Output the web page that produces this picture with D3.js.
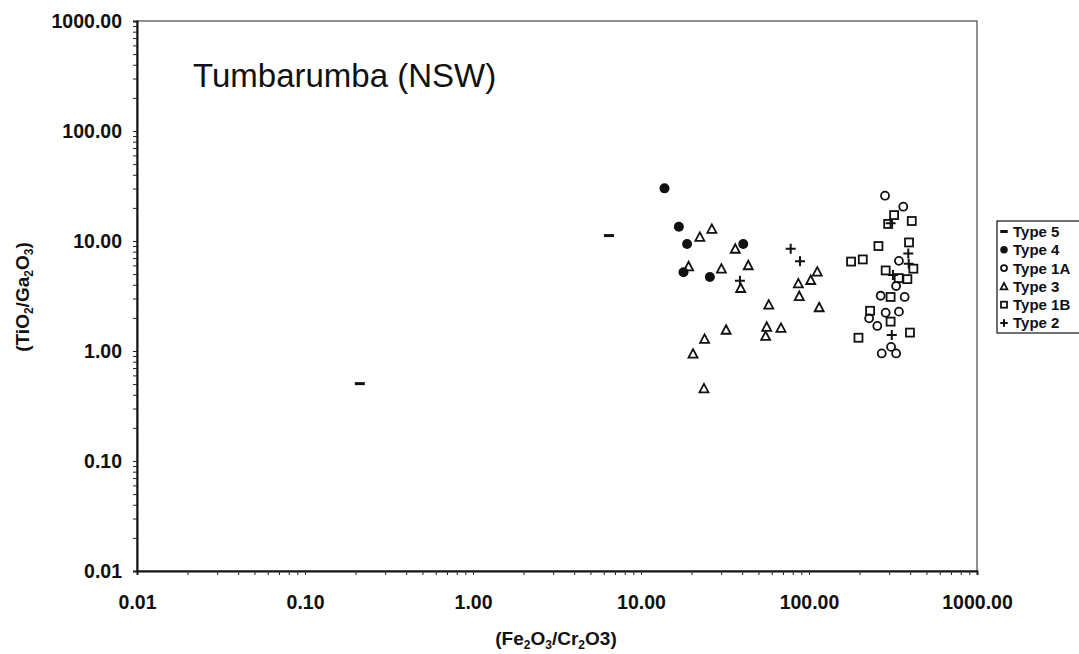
<!DOCTYPE html>
<html><head><meta charset="utf-8">
<script src="https://cdn.jsdelivr.net/npm/d3@7"></script>
<style>
body{margin:0;background:#fff;}
svg{display:block;font-family:"Liberation Sans",Arial,sans-serif;}
</style></head>
<body><svg id="c" width="1079" height="654"></svg>
<script>
// ---- data ----
const type5 = [[6.45, 11.2], [0.212, 0.505]];
const type4 = [[13.8, 30.1], [16.8, 13.5], [18.8, 9.4], [17.9, 5.19], [25.7, 4.71], [40.6, 9.4]];
const type1A = [[283.5, 25.8], [364, 20.5], [343, 6.6], [330, 3.9], [267, 3.18], [371, 3.1], [228, 1.98],
  [286, 2.23], [343, 2.28], [255, 1.69], [271, 0.95], [308, 1.09], [330, 0.95]];
const type3 = [[26.4, 12.9], [22.4, 10.9], [36.4, 8.5], [19.2, 5.89], [30.1, 5.6], [43.5, 6.02], [39.2, 3.74],
  [57.6, 2.64], [56.0, 1.66], [55.2, 1.37], [68.1, 1.62], [32.1, 1.56], [23.9, 1.29], [20.4, 0.945], [23.7, 0.458],
  [112, 5.26], [102.4, 4.42], [86.4, 4.12], [87.5, 3.16], [115, 2.5]];
const type1B = [[321, 17.2], [296, 14.3], [409, 15.2], [259, 9.0], [394, 9.7], [178, 6.5], [209, 6.8], [286, 5.4],
  [418, 5.6], [342, 4.6], [385, 4.5], [306, 3.1], [231, 2.32], [306, 1.85], [197, 1.32], [399, 1.47]];
const type2 = [[306, 14.5], [390, 7.7], [392, 6.2], [316, 4.9], [311, 1.40], [77.8, 8.51], [88.4, 6.54], [38.8, 4.36]];
const legendLabels = ["Type 5", "Type 4", "Type 1A", "Type 3", "Type 1B", "Type 2"];
const majorTicks = [0.01, 0.1, 1, 10, 100, 1000];
const titleText = "Tumbarumba (NSW)";

// ---- layout ----
const svg = d3.select("#c");
const L = 137, R = 977, T = 21, B = 571;
const x = d3.scaleLog().domain([0.01, 1000]).range([L, R]);
const y = d3.scaleLog().domain([0.01, 1000]).range([B, T]);
const fmt = d3.format(".2f");
const isMajor = v => majorTicks.some(m => Math.abs(m - v) / m < 1e-6);

// frame
svg.append("rect").attr("x", L).attr("y", T).attr("width", R - L).attr("height", B - T)
  .attr("fill", "none").attr("stroke", "#222").attr("stroke-width", 1);

const xAxis = d3.axisBottom(x).tickValues(x.ticks()).tickSize(4).tickPadding(20)
  .tickFormat(d => isMajor(d) ? fmt(d) : "");
const gx = svg.append("g").attr("transform", `translate(0,${B})`).call(xAxis);
const yAxis = d3.axisLeft(y).tickValues(y.ticks()).tickSize(4).tickPadding(11)
  .tickFormat(d => isMajor(d) ? fmt(d) : "");
const gy = svg.append("g").attr("transform", `translate(${L},0)`).call(yAxis);
[gx, gy].forEach(g => {
  g.select(".domain").attr("stroke", "#111").attr("stroke-width", 2);
  g.selectAll(".tick line").attr("stroke", "#222").attr("stroke-width", 1);
  g.selectAll(".tick text").attr("font-size", 19.5).attr("font-weight", "bold").attr("fill", "#111")
    .attr("font-family", "Liberation Sans, Arial, sans-serif");
});
gy.selectAll(".tick text").attr("dy", "0.35em");

// axis titles
const xt = svg.append("text").attr("x", 556).attr("y", 645).attr("text-anchor", "middle")
  .attr("font-size", 19).attr("font-weight", "bold").attr("fill", "#111");
xt.append("tspan").text("(Fe");
xt.append("tspan").text("2").attr("font-size", 12).attr("dy", 3.5);
xt.append("tspan").text("O").attr("dy", -3.5);
xt.append("tspan").text("3").attr("font-size", 12).attr("dy", 3.5);
xt.append("tspan").text("/Cr").attr("dy", -3.5);
xt.append("tspan").text("2").attr("font-size", 12).attr("dy", 3.5);
xt.append("tspan").text("O3)").attr("dy", -3.5);

const yt = svg.append("text").attr("transform", "translate(29,297) rotate(-90)").attr("text-anchor", "middle")
  .attr("font-size", 19).attr("font-weight", "bold").attr("fill", "#111");
yt.append("tspan").text("(TiO");
yt.append("tspan").text("2").attr("font-size", 12).attr("dy", 4);
yt.append("tspan").text("/Ga").attr("dy", -4);
yt.append("tspan").text("2").attr("font-size", 12).attr("dy", 4);
yt.append("tspan").text("O").attr("dy", -4);
yt.append("tspan").text("3").attr("font-size", 12).attr("dy", 4);
yt.append("tspan").text(")").attr("dy", -4);

// title
svg.append("text").attr("x", 193).attr("y", 87).attr("font-size", 33).attr("fill", "#111").text(titleText);

// ---- marker drawing ----
function drawMarker(g, type, cx, cy, s) {
  s = s || 1;
  if (type === "Type 5") {
    g.append("rect").attr("x", cx - 5 * s).attr("y", cy - 1.5).attr("width", 10 * s).attr("height", 3).attr("fill", "#111");
  } else if (type === "Type 4") {
    g.append("circle").attr("cx", cx).attr("cy", cy).attr("r", 5 * s).attr("fill", "#111");
  } else if (type === "Type 1A") {
    g.append("circle").attr("cx", cx).attr("cy", cy).attr("r", 4 * s).attr("fill", "none").attr("stroke", "#111").attr("stroke-width", 1.8);
  } else if (type === "Type 3") {
    const h = 8 * s, w = 9 * s;
    g.append("path").attr("d", `M${cx},${cy - h / 2 - 0.5}L${cx + w / 2},${cy + h / 2}L${cx - w / 2},${cy + h / 2}Z`)
      .attr("fill", "none").attr("stroke", "#111").attr("stroke-width", 1.8).attr("stroke-linejoin", "miter");
  } else if (type === "Type 1B") {
    g.append("rect").attr("x", cx - 4 * s).attr("y", cy - 4 * s).attr("width", 8 * s).attr("height", 8 * s)
      .attr("fill", "none").attr("stroke", "#111").attr("stroke-width", 1.8);
  } else if (type === "Type 2") {
    g.append("path").attr("d", `M${cx - 5 * s},${cy}H${cx + 5 * s}M${cx},${cy - 5 * s}V${cy + 5 * s}`)
      .attr("stroke", "#111").attr("stroke-width", 2);
  }
}

const series = [["Type 5", type5], ["Type 4", type4], ["Type 1A", type1A], ["Type 3", type3], ["Type 1B", type1B], ["Type 2", type2]];
const pts = svg.append("g");
series.forEach(([name, data]) => {
  const g = pts.append("g");
  data.forEach(d => drawMarker(g, name, x(d[0]), y(d[1])));
});

// ---- legend ----
const lg = svg.append("g");
lg.append("rect").attr("x", 997).attr("y", 221).attr("width", 100).attr("height", 112)
  .attr("fill", "#fff").attr("stroke", "#111").attr("stroke-width", 1.2);
legendLabels.forEach((lab, i) => {
  const cy = 231.5 + i * 18.3;
  drawMarker(lg, lab, 1004, cy, 0.75);
  lg.append("text").attr("x", 1013).attr("y", cy).attr("dy", "0.36em").attr("font-size", 15)
    .attr("font-weight", "bold").attr("fill", "#111").text(lab);
});
</script></body></html>
